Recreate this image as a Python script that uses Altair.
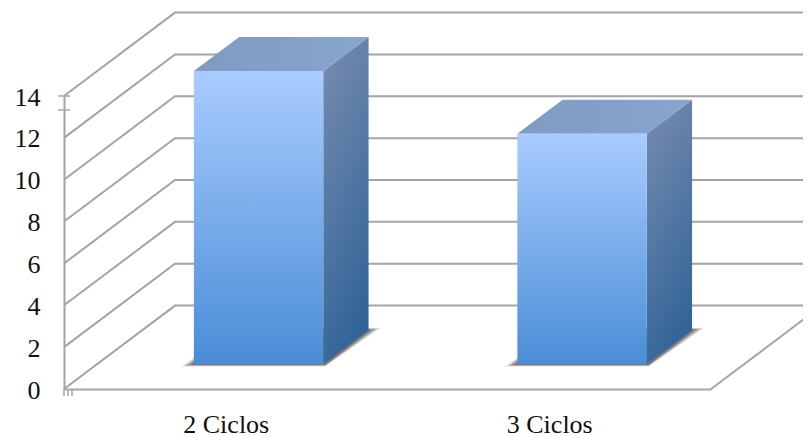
import altair as alt
import pandas as pd

categories = ["2 Ciclos", "3 Ciclos"]
values = [14, 11]
y_ticks = [0, 2, 4, 6, 8, 10, 12, 14]

# pseudo-3D projection, in scale units
DX, DY = 0.3431, 3.986      # shift of the back wall
D1, D2 = 0.287, 0.695       # depth range of the bars
BAR_L, BAR_W = 0.303, 0.40  # bar inside its category slot
GRID = "#A4A4A4"
LW = 2
FONT = "Liberation Serif"
FS = 26

xs = alt.Scale(domain=[0, 2], nice=False, zero=False)
ys = alt.Scale(domain=[0, 14], nice=False, zero=False)
X = lambda f="x", **k: alt.X(f + ":Q", scale=xs, title=None, **k)
Y = lambda f="y", **k: alt.Y(f + ":Q", scale=ys, title=None, **k)


def grad(c1, c2, x1=0.0, y1=0.0, x2=0.0, y2=1.0):
    return alt.LinearGradient(
        gradient="linear", x1=x1, y1=y1, x2=x2, y2=y2,
        stops=[alt.GradientStop(color=c1, offset=0), alt.GradientStop(color=c2, offset=1)],
    )


layers = []

# wall and back gridlines
grid_rows = []
for v in y_ticks:
    grid_rows += [
        {"v": v, "i": 0, "x": 0, "y": v},
        {"v": v, "i": 1, "x": DX, "y": v + DY},
        {"v": v, "i": 2, "x": 2 + DX, "y": v + DY},
    ]
layers.append(
    alt.Chart(pd.DataFrame(grid_rows)).mark_line(color=GRID, strokeWidth=LW).encode(
        x=alt.X(
            "x:Q", scale=xs, title=None,
            axis=alt.Axis(
                values=[0.5, 1.5], grid=False, ticks=False, domainColor=GRID, domainWidth=LW,
                labelExpr="%s[floor(datum.value)]" % str(categories),
                labelFont=FONT, labelFontSize=FS, labelColor="#111111", labelPadding=22,
                labelOverlap=False, labelFlush=False, labelBound=False,
            ),
        ),
        y=alt.Y(
            "y:Q", scale=ys, title=None,
            axis=alt.Axis(
                values=y_ticks, grid=False, ticks=False, domainColor=GRID, domainWidth=LW,
                labelFont=FONT, labelFontSize=FS, labelColor="#111111", labelPadding=24,
                labelOffset=1, labelOverlap=False, labelFlush=False, labelBound=False,
            ),
        ),
        detail="v:N", order="i:Q",
    )
)

# floor edge on the right
floor = pd.DataFrame({"x": [2, 2 + DX], "y": [0, DY]})
layers.append(alt.Chart(floor).mark_line(color=GRID, strokeWidth=LW).encode(x=X(), y=Y()))

# small tick marks on the axes
tick_y = pd.DataFrame({"x": [-0.0185, -0.0185], "x2": [0.0185, 0.0185], "y": [14, 13.33]})
layers.append(alt.Chart(tick_y).mark_rule(color=GRID, strokeWidth=1.5).encode(x=X(), x2="x2:Q", y=Y()))
tick_x = pd.DataFrame({"x": [0, 0.0124, 0.0247], "y": [0, 0, 0], "y2": [-0.33, -0.33, -0.33]})
layers.append(alt.Chart(tick_x).mark_rule(color=GRID, strokeWidth=1.5).encode(x=X(), y=Y(), y2="y2:Q"))

for i, val in enumerate(values):
    xl = i + BAR_L + DX * D1
    xr = xl + BAR_W
    y0 = DY * D1 + 0.05
    top = val + y0
    ddx = DX * (D2 - D1)
    ddy = DY * (D2 - D1)

    # soft floor shadow
    for grow, op in [(1.0, 0.18), (0.75, 0.28), (0.5, 0.38), (0.25, 0.5)]:
        sh = pd.DataFrame({
            "y": [y0 - 0.12 * grow, y0 + ddy + 0.1 * grow],
            "x": [xl - 0.039 * grow, xl + ddx - 0.008 * grow],
            "x2": [xr + 0.006, xr + ddx + 0.037 * grow],
        })
        layers.append(
            alt.Chart(sh).mark_area(orient="horizontal", color="#555555", opacity=op).encode(
                x=X(), x2="x2:Q", y=Y()
            )
        )

    # side face
    side = pd.DataFrame({
        "x": [xr, xr + ddx],
        "y": [y0, y0 + ddy],
        "y2": [top, top + ddy],
    })
    layers.append(
        alt.Chart(side).mark_area(
            color=grad("#7389AE", "#2E6297", x1=0.35, y1=0.0, x2=0.65, y2=1.0)
        ).encode(x=X(), y=Y(), y2="y2:Q")
    )

    # top face
    lid = pd.DataFrame({
        "y": [top, top + ddy],
        "x": [xl, xl + ddx],
        "x2": [xr, xr + ddx],
    })
    layers.append(
        alt.Chart(lid).mark_area(
            orient="horizontal", color=grad("#7F9AC3", "#88A5CF", x1=0, y1=0.5, x2=1, y2=0.5)
        ).encode(x=X(), x2="x2:Q", y=Y())
    )

    # front face
    front = pd.DataFrame({"x": [xl], "x2": [xr], "y": [y0], "y2": [top]})
    layers.append(
        alt.Chart(front).mark_rect(color=grad("#4A8DD6", "#A9CCFF", y1=1.0, y2=0.0)).encode(
            x=X(), x2="x2:Q", y=Y(), y2="y2:Q"
        )
    )

chart = (
    alt.layer(*layers)
    .properties(
        width=647, height=293,
        autosize=alt.AutoSizeParams(type="none"),
        padding={"left": 56, "top": 88, "right": 92, "bottom": 48},
        background="white",
    )
    .configure_view(stroke=None)
)
chart.save("out.html", embed_options={"renderer": "svg", "actions": False})
